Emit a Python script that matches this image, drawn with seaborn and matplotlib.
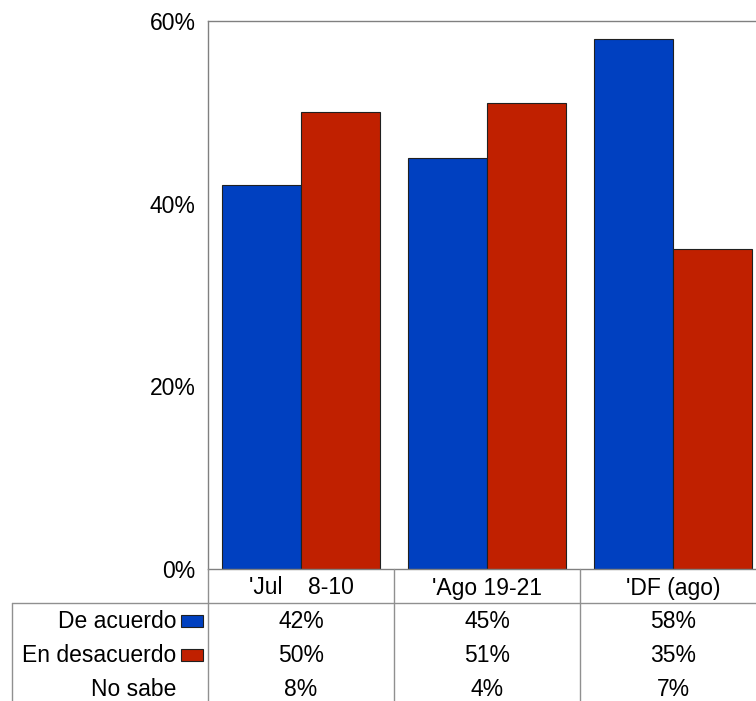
import matplotlib
matplotlib.use("Agg")
from matplotlib import pyplot as plt
from matplotlib.patches import Rectangle
from matplotlib.lines import Line2D
import matplotlib.transforms as mtransforms
import pandas as pd
import seaborn as sns

# Data
periods = ["'Jul    8-10", "'Ago 19-21", "'DF (ago)"]
de_acuerdo = [42, 45, 58]
en_desacuerdo = [50, 51, 35]
no_sabe = [8, 4, 7]
series_names = ["De acuerdo", "En desacuerdo"]
colors = ["#0040C0", "#C02000"]
y_ticks = [0, 20, 40, 60]

sns.set_style("white")
plt.rcParams["font.family"] = ["Liberation Sans", "DejaVu Sans"]
plt.rcParams["font.size"] = 16.5
plt.rcParams["text.color"] = "black"
plt.rcParams["ytick.color"] = "black"
plt.rcParams["ytick.labelcolor"] = "black"

W, H = 756, 701
fig = plt.figure(figsize=(W / 100, H / 100), dpi=100)


def fx(px):
    return px / W


def fy(py):
    return 1 - py / H


ax = fig.add_axes([fx(208), fy(569), fx(558), 548 / H])

df = pd.DataFrame({
    "period": periods * 2,
    "serie": [series_names[0]] * 3 + [series_names[1]] * 3,
    "value": de_acuerdo + en_desacuerdo,
})
sns.barplot(data=df, x="period", y="value", hue="serie", palette=colors,
            width=0.85, ax=ax, edgecolor="#202020", linewidth=0.8,
            legend=False, saturation=1)

ax.set_xlim(-0.5, 2.5)
ax.set_ylim(0, 60)
ax.set_yticks(y_ticks)
ax.set_yticklabels([f"{t}%" for t in y_ticks], fontsize=16.5, color="black")
ax.set_xticks([])
ax.set_xlabel("")
ax.set_ylabel("")
ax.tick_params(axis="y", length=0, pad=9)
for sp in ax.spines.values():
    sp.set_color("#808080")
    sp.set_linewidth(1)

# Data table below the axes
grid = "#909090"
trans = mtransforms.blended_transform_factory(ax.transData, fig.transFigure)
ftr = fig.transFigure

# horizontal line under header
fig.add_artist(Line2D([fx(12), fx(760)], [fy(603), fy(603)], color=grid, lw=1, transform=ftr))
# vertical lines
fig.add_artist(Line2D([fx(12), fx(12)], [fy(603), fy(701)], color=grid, lw=1, transform=ftr))
for xb in [-0.5, 0.5, 1.5]:
    fig.add_artist(Line2D([xb, xb], [fy(569), fy(701)], color=grid, lw=1, transform=trans))

for i, p in enumerate(periods):
    fig.text(i, fy(588), p, transform=trans, ha="center", va="center", color="black")

rows = [de_acuerdo, en_desacuerdo, no_sabe]
row_names = series_names + ["No sabe"]
row_y = [621, 655, 689]
for r, (name, vals, yy) in enumerate(zip(row_names, rows, row_y)):
    fig.text(fx(176), fy(yy), name, ha="right", va="center", color="black")
    if r < 2:
        fig.add_artist(Rectangle((fx(181), fy(yy + 6)), fx(22), 12 / H,
                                 facecolor=colors[r], edgecolor="#202020",
                                 lw=0.8, transform=ftr))
    for i, v in enumerate(vals):
        fig.text(i, fy(yy), f"{v}%", transform=trans, ha="center", va="center",
                 color="black")

fig.savefig("out.png", dpi=100)
